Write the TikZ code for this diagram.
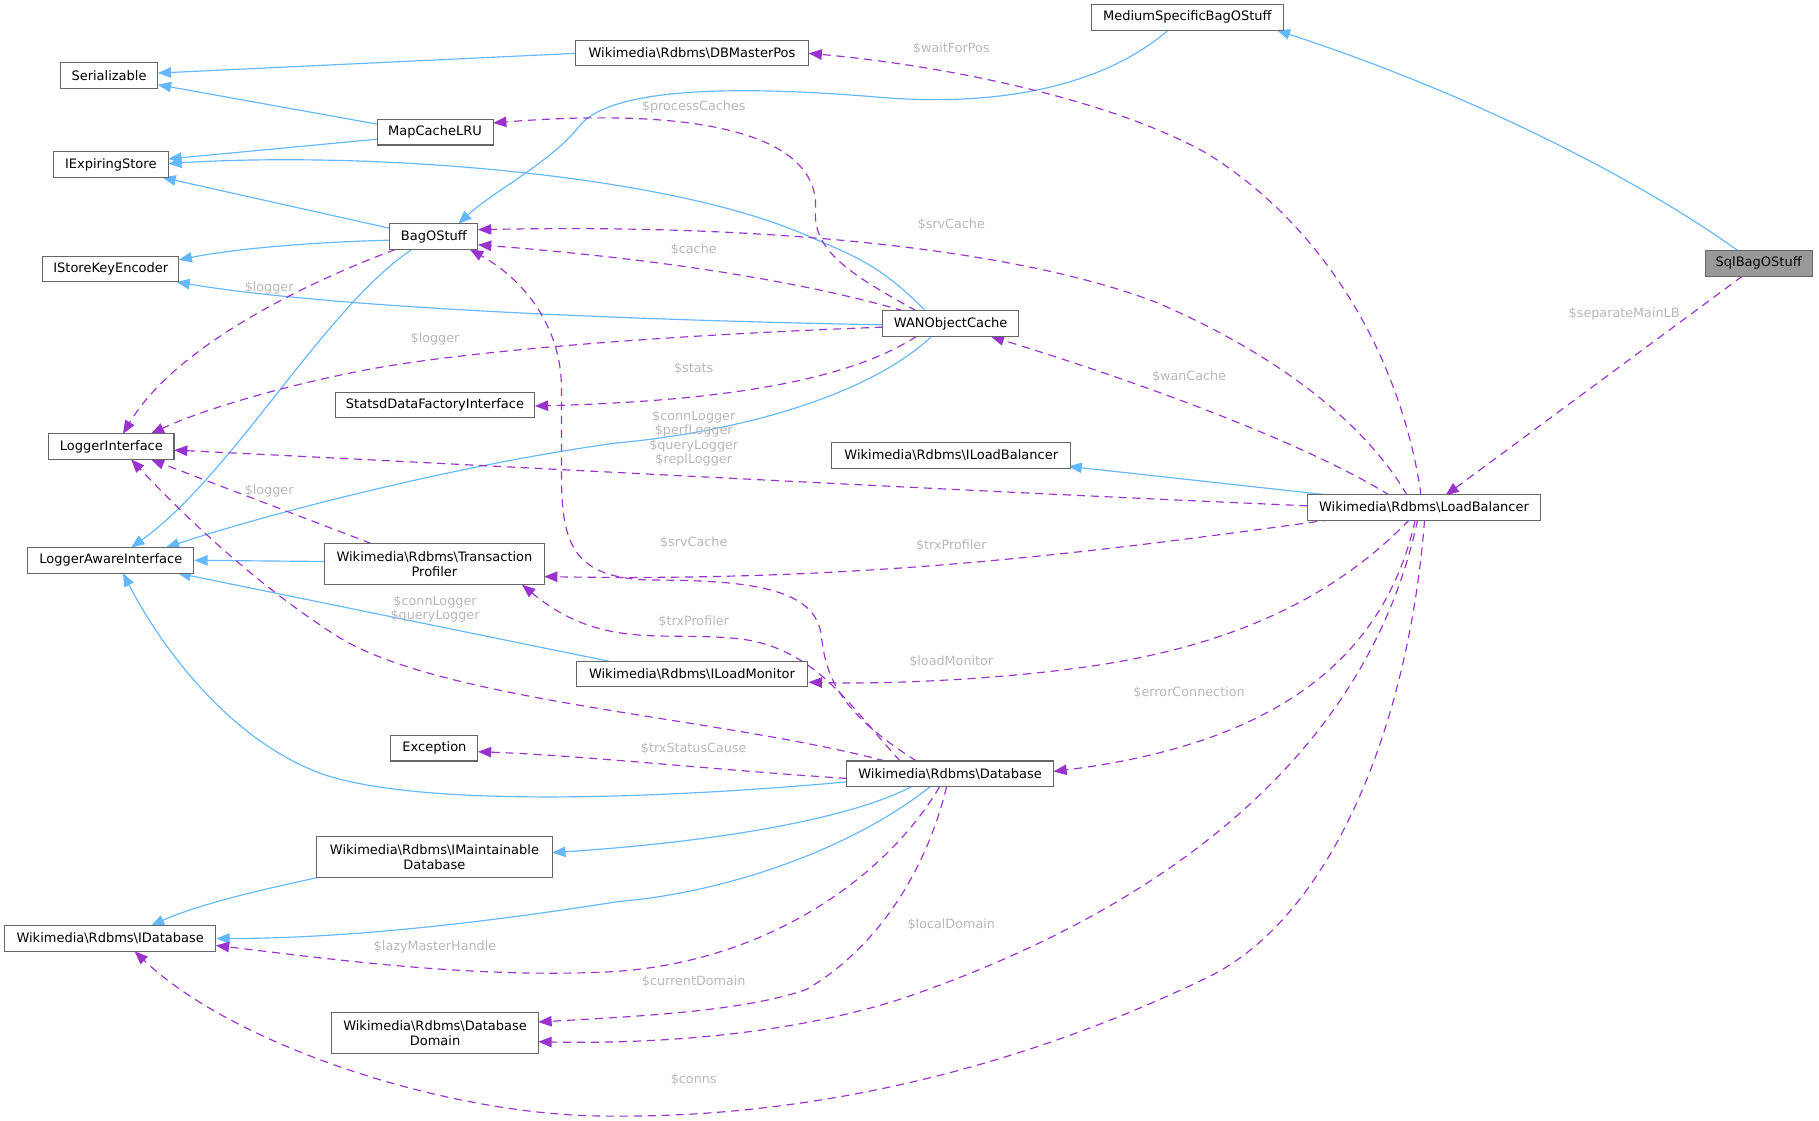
\documentclass[tikz,border=0pt]{standalone}
\usepackage{fontspec}
\setmainfont{DejaVu Sans}
\usetikzlibrary{arrows.meta}
\definecolor{inhblue}{HTML}{63B8FF}
\definecolor{usepurple}{HTML}{9A32CD}
\definecolor{boxborder}{HTML}{666666}
\definecolor{lblgray}{HTML}{B8B8B8}
\definecolor{focusfill}{HTML}{999999}
\pgfdeclarelayer{edges}
\pgfsetlayers{edges,main}
\newcommand{\bsl}{\textbackslash}
\begin{document}
\begin{tikzpicture}[x=1pt,y=-1pt,
  cls/.style={draw=boxborder, fill=white, line width=0.9pt, inner sep=0pt, minimum height=22pt, font=\fontsize{11.2}{13}\selectfont, text=black, align=center},
  cls2/.style={cls, minimum height=35pt},
  inh/.style={draw=inhblue, line width=1pt, -{Triangle[length=11.5pt,width=9pt]}},
  use/.style={draw=usepurple, line width=1pt, dash pattern=on 7pt off 5pt, -{Triangle[length=11.5pt,width=9pt]}},
  lbl/.style={text=lblgray, font=\fontsize{11}{12.5}\selectfont, align=center, inner sep=0pt}]
\useasboundingbox (0,0) rectangle (1568,966);
% nodes
\node[cls, minimum width=165pt] (msb) at (1023.5,15) {MediumSpecificBagOStuff};
\node[cls, minimum width=201pt] (dbmp) at (596.5,45.5) {Wikimedia\bsl Rdbms\bsl DBMasterPos};
\node[cls, minimum width=84pt] (ser) at (94,65) {Serializable};
\node[cls, minimum width=100pt] (mcl) at (375,114) {MapCacheLRU};
\node[cls, minimum width=99pt] (ies) at (95.5,142) {IExpiringStore};
\node[cls, minimum width=76pt] (bag) at (374,204) {BagOStuff};
\node[cls, minimum width=117pt] (iske) at (95.5,232) {IStoreKeyEncoder};
\node[cls, minimum width=92pt, fill=focusfill] (sql) at (1516,227) {SqlBagOStuff};
\node[cls, minimum width=117pt] (wan) at (819.5,279) {WANObjectCache};
\node[cls, minimum width=172pt] (sdfi) at (375,349) {StatsdDataFactoryInterface};
\node[cls, minimum width=108pt] (li) at (96,385) {LoggerInterface};
\node[cls, minimum width=206pt] (ilb) at (820,392.5) {Wikimedia\bsl Rdbms\bsl ILoadBalancer};
\node[cls, minimum width=201pt] (lb) at (1227.5,437.5) {Wikimedia\bsl Rdbms\bsl LoadBalancer};
\node[cls, minimum width=143pt] (lai) at (95.5,483) {LoggerAwareInterface};
\node[cls2, minimum width=189pt] (tp) at (374.5,486) {Wikimedia\bsl Rdbms\bsl Transaction\\Profiler};
\node[cls, minimum width=199pt] (ilm) at (596.5,581) {Wikimedia\bsl Rdbms\bsl ILoadMonitor};
\node[cls, minimum width=75pt] (exc) at (374.5,645) {Exception};
\node[cls, minimum width=178pt] (db) at (819,667) {Wikimedia\bsl Rdbms\bsl Database};
\node[cls2, minimum width=203pt] (imd) at (374.5,738.5) {Wikimedia\bsl Rdbms\bsl IMaintainable\\Database};
\node[cls, minimum width=182pt] (idb) at (95,809) {Wikimedia\bsl Rdbms\bsl IDatabase};
\node[cls2, minimum width=178pt] (dd) at (375,890.5) {Wikimedia\bsl Rdbms\bsl Database\\Domain};
% labels
\node[lbl] (l1) at (820,42) {\$waitForPos};
\node[lbl] (l2) at (598,92) {\$processCaches};
\node[lbl] (l3) at (820,194) {\$srvCache};
\node[lbl] (l4) at (598,215) {\$cache};
\node[lbl] (l5) at (232,248) {\$logger};
\node[lbl] (l6) at (375,292) {\$logger};
\node[lbl] (l7) at (598,318) {\$stats};
\node[lbl] (l8) at (1400,271) {\$separateMainLB};
\node[lbl] (l9) at (1025,325) {\$wanCache};
\node[lbl] (l10) at (598,378) {\$connLogger\\\$perfLogger\\\$queryLogger\\\$replLogger};
\node[lbl] (l11) at (232,423) {\$logger};
\node[lbl] (l12) at (598,468) {\$srvCache};
\node[lbl] (l13) at (820,470) {\$trxProfiler};
\node[lbl] (l14) at (375,525) {\$connLogger\\\$queryLogger};
\node[lbl] (l15) at (598,536) {\$trxProfiler};
\node[lbl] (l16) at (820,570) {\$loadMonitor};
\node[lbl] (l17) at (1025,597) {\$errorConnection};
\node[lbl] (l18) at (598,645) {\$trxStatusCause};
\node[lbl] (l19) at (820,797) {\$localDomain};
\node[lbl] (l20) at (375,816) {\$lazyMasterHandle};
\node[lbl] (l21) at (598,846) {\$currentDomain};
\node[lbl] (l22) at (598,931) {\$conns};
\begin{pgfonlayer}{edges}
\fill[white] (0,0) rectangle (1568,966);
% inheritance edges
\draw[inh] ([shift={(-100.5,0.5)}]dbmp.center) -- ([shift={(42,-2)}]ser.center);
\draw[inh] ([shift={(-50,-7)}]mcl.center) -- ([shift={(42,8)}]ser.center);
\draw[inh] ([shift={(-50,6)}]mcl.center) -- ([shift={(49.5,-5)}]ies.center);
\draw[inh] ([shift={(-21.5,-11)}]wan.center) .. controls (760,230) and (740,222) .. (700,205) .. controls (580,150) and (320,130) .. ([shift={(49.5,-1)}]ies.center);
\draw[inh] ([shift={(-37,-7)}]bag.center) -- ([shift={(44.5,11)}]ies.center);
\draw[inh] ([shift={(-37,3)}]bag.center) .. controls (260,209) and (200,215) .. ([shift={(58.5,-8)}]iske.center);
\draw[inh] ([shift={(-58.5,1)}]wan.center) .. controls (600,277) and (300,268) .. ([shift={(56.5,11)}]iske.center);
\draw[inh] ([shift={(-16.5,11)}]msb.center) .. controls (950,75) and (860,92) .. (760,84) .. controls (620,72) and (525,78) .. (500,108) .. controls (475,140) and (425,165) .. ([shift={(21,-11)}]bag.center);
\draw[inh] ([shift={(-18,-11)}]sql.center) .. controls (1420,160) and (1280,85) .. ([shift={(77,11)}]msb.center);
\draw[inh] ([shift={(-19,11)}]bag.center) .. controls (280,265) and (200,410) .. ([shift={(17.5,-11)}]lai.center);
\draw[inh] ([shift={(-16.5,11)}]wan.center) .. controls (750,340) and (640,372) .. (530,382) .. controls (400,400) and (240,440) .. ([shift={(47.5,-11)}]lai.center);
\draw[inh] ([shift={(-94.5,-2)}]tp.center) -- (lai.east);
\draw[inh] ([shift={(-71.5,-11)}]ilm.center) -- ([shift={(57.5,11)}]lai.center);
\draw[inh] ([shift={(-89,7)}]db.center) .. controls (620,684) and (380,700) .. (280,668) .. controls (200,640) and (140,560) .. ([shift={(10.5,11)}]lai.center);
\draw[inh] ([shift={(-79.5,-10.5)}]lb.center) -- ([shift={(101,9.5)}]ilb.center);
\draw[inh] ([shift={(-33,11)}]db.center) .. controls (740,702) and (640,724) .. ([shift={(101.5,-3.5)}]imd.center);
\draw[inh] ([shift={(-17,11)}]db.center) .. controls (730,735) and (620,770) .. (534,777) .. controls (420,795) and (300,809) .. (idb.east);
\draw[inh] ([shift={(-98.5,17.5)}]imd.center) .. controls (220,768) and (170,780) .. ([shift={(35,-11)}]idb.center);
% usage edges
\draw[use] ([shift={(-2.5,-10.5)}]lb.center) .. controls (1210,320) and (1150,200) .. (1040,132) .. controls (950,82) and (800,55) .. ([shift={(100.5,0.5)}]dbmp.center);
\draw[use] ([shift={(-29.5,-11)}]wan.center) .. controls (730,235) and (700,215) .. (703,180) .. controls (706,115) and (600,92) .. ([shift={(50,-8)}]mcl.center);
\draw[use] ([shift={(-14.5,-10.5)}]lb.center) .. controls (1180,370) and (1110,310) .. (1000,262) .. controls (900,222) and (700,192) .. ([shift={(38,-6)}]bag.center);
\draw[use] ([shift={(-40.5,-11)}]wan.center) .. controls (700,245) and (580,224) .. ([shift={(38,7)}]bag.center);
\draw[use] ([shift={(-29,-11)}]db.center) .. controls (725,615) and (712,585) .. (708,548) .. controls (703,508) and (650,500) .. (560,500) .. controls (495,498) and (484,470) .. (484,410) -- (484,335) .. controls (484,280) and (450,240) .. ([shift={(31,11)}]bag.center);
\draw[use] ([shift={(-33,11)}]bag.center) .. controls (260,245) and (150,300) .. ([shift={(10,-11)}]li.center);
\draw[use] ([shift={(-58.5,3)}]wan.center) .. controls (600,288) and (420,300) .. (320,318) .. controls (240,333) and (170,355) .. ([shift={(34,-11)}]li.center);
\draw[use] ([shift={(-29.5,11)}]wan.center) .. controls (740,322) and (650,345) .. ([shift={(86,1)}]sdfi.center);
\draw[use] ([shift={(-100.5,-1.5)}]lb.center) .. controls (800,422) and (400,400) .. ([shift={(54,3)}]li.center);
\draw[use] ([shift={(-80.5,10.5)}]lb.center) .. controls (950,475) and (750,502) .. ([shift={(94.5,11)}]tp.center);
\draw[use] ([shift={(-43,-11)}]db.center) .. controls (735,612) and (705,560) .. (640,551) .. controls (575,543) and (520,562) .. ([shift={(75.5,18)}]tp.center);
\draw[use] ([shift={(-56,-11)}]db.center) .. controls (620,618) and (380,605) .. (290,548) .. controls (210,497) and (145,430) .. ([shift={(17,11)}]li.center);
\draw[use] ([shift={(-54.5,-17.5)}]tp.center) -- ([shift={(34,11)}]li.center);
\draw[use] ([shift={(-12.5,10.5)}]lb.center) .. controls (1150,515) and (1060,560) .. (920,577) .. controls (850,586) and (760,590) .. ([shift={(100.5,7)}]ilm.center);
\draw[use] ([shift={(-89,4)}]db.center) .. controls (620,664) and (500,651) .. ([shift={(37.5,3)}]exc.center);
\draw[use] ([shift={(-7.5,10.5)}]lb.center) .. controls (1195,560) and (1110,640) .. ([shift={(89,-2)}]db.center);
\draw[use] ([shift={(-29.5,-10.5)}]lb.center) .. controls (1130,385) and (1000,335) .. ([shift={(34.5,11)}]wan.center);
\draw[use] ([shift={(-14,11)}]sql.center) -- ([shift={(18.5,-10.5)}]lb.center);
\draw[use] ([shift={(-5.5,10.5)}]lb.center) .. controls (1190,600) and (1070,760) .. (780,860) .. controls (680,893) and (560,900) .. ([shift={(89,7.5)}]dd.center);
\draw[use] ([shift={(0.5,10.5)}]lb.center) .. controls (1215,620) and (1150,790) .. (1040,843) .. controls (880,920) and (700,965) .. (517,962) .. controls (380,960) and (200,900) .. ([shift={(21,11)}]idb.center);
\draw[use] ([shift={(-9,11)}]db.center) .. controls (765,755) and (660,832) .. (520,838) .. controls (400,843) and (280,826) .. ([shift={(91,6)}]idb.center);
\draw[use] ([shift={(-3,11)}]db.center) .. controls (800,745) and (760,815) .. (695,853) .. controls (640,872) and (550,876) .. ([shift={(89,-9.5)}]dd.center);
\end{pgfonlayer}
\end{tikzpicture}
\end{document}
